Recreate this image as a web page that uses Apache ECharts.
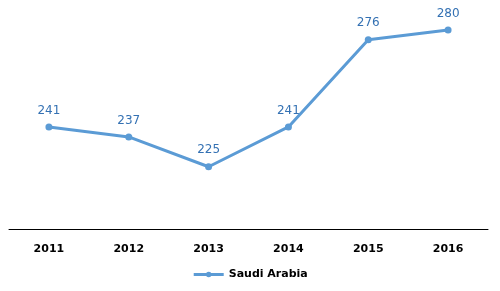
<!DOCTYPE html>
<html><head><meta charset="utf-8">
<script src="https://cdn.jsdelivr.net/npm/echarts@6/dist/echarts.min.js"></script>
<style>html,body{margin:0;padding:0;background:#fff}#c{width:500px;height:291px}</style>
</head><body><div id="c"></div>
<script>
const categories = ['2011','2012','2013','2014','2015','2016'];
const seriesName = 'Saudi Arabia';
const values = [241, 237, 225, 241, 276, 280];
const chart = echarts.init(document.getElementById('c'));
chart.setOption({
  animation: false,
  grid: {left: 9, right: 12, top: 5, bottom: 62, containLabel: false},
  xAxis: {type: 'category', data: categories, boundaryGap: true,
    axisLine: {lineStyle: {color: '#000', width: 1}}, axisTick: {show: false},
    axisLabel: {color: '#000', fontWeight: 'bold', fontSize: 11, fontFamily: 'DejaVu Sans', margin: 15}},
  yAxis: {type: 'value', min: 200, max: 290, show: false, splitLine: {show: false}},
  legend: {bottom: 6, left: 'center', itemWidth: 30, itemHeight: 7, itemGap: 3,
    lineStyle: {width: 3},
    textStyle: {color: '#000', fontWeight: 'bold', fontSize: 11, fontFamily: 'DejaVu Sans'},
    data: [{name: seriesName}]},
  series: [{name: seriesName, type: 'line', data: values, symbol: 'circle', symbolSize: 7,
    lineStyle: {color: '#5B9BD5', width: 3}, itemStyle: {color: '#5B9BD5'},
    label: {show: true, position: 'top', distance: 7, color: '#3471B3', fontSize: 12, fontFamily: 'DejaVu Sans'}}]
});
</script></body></html>
